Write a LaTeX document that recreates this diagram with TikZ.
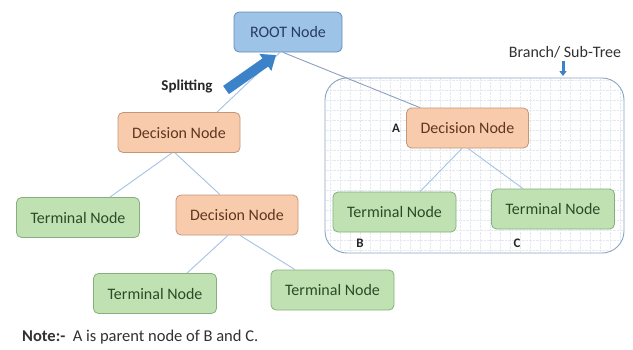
\documentclass[tikz,border=0pt]{standalone}
\usepackage{fontspec}
\setmainfont{Carlito}
\usetikzlibrary{arrows.meta,calc}
\definecolor{rootfill}{RGB}{157,195,230}
\definecolor{rootdraw}{RGB}{100,140,190}
\definecolor{roottext}{RGB}{40,60,100}
\definecolor{decfill}{RGB}{248,203,173}
\definecolor{decdraw}{RGB}{195,150,120}
\definecolor{dectext}{RGB}{95,55,30}
\definecolor{termfill}{RGB}{192,226,178}
\definecolor{termdraw}{RGB}{135,175,125}
\definecolor{termtext}{RGB}{40,75,40}
\definecolor{conn}{RGB}{165,195,228}
\definecolor{conndark}{RGB}{140,160,190}
\definecolor{boxdraw}{RGB}{140,165,195}
\definecolor{gridc}{RGB}{226,233,243}
\definecolor{bigarrow}{RGB}{60,130,200}
\definecolor{labtext}{RGB}{50,50,50}
\tikzset{
  treenode/.style={rectangle, rounded corners=5pt, line width=0.8pt, font=\fontsize{16}{18}\selectfont, inner sep=0pt},
  rootbox/.style={treenode, fill=rootfill, draw=rootdraw, text=roottext, minimum width=108pt, minimum height=40pt},
  decbox/.style={treenode, fill=decfill, draw=decdraw, text=dectext, minimum width=122pt, minimum height=40pt},
  termbox/.style={treenode, fill=termfill, draw=termdraw, text=termtext, minimum width=123pt, minimum height=40pt},
  edge/.style={draw=conn, line width=0.9pt},
  letter/.style={font=\fontsize{13}{15}\selectfont\bfseries, text=black!85, inner sep=0pt}
}
\begin{document}
\begin{tikzpicture}[x=1pt,y=-1pt]
\useasboundingbox (0,0) rectangle (633,349);
\fill[white] (0,0) rectangle (633,349);
% sub-tree box with grid
\begin{scope}
  \clip[rounded corners=22pt] (325,78) rectangle (624,253);
  \draw[gridc, line width=0.4pt, densely dotted, step=10pt] (320,70) grid (630,260);
\end{scope}
\draw[boxdraw, line width=0.9pt, rounded corners=22pt] (325,78) rectangle (624,253);

% nodes
\node[rootbox] (root) at (288,32) {ROOT Node};
\node[decbox] (dl) at (179,132.5) {Decision Node};
\node[termbox] (tl) at (78,217.5) {Terminal Node};
\node[decbox] (dm) at (237,215) {Decision Node};
\node[termbox] (tbl) at (155,293.5) {Terminal Node};
\node[termbox] (tbr) at (332.5,290) {Terminal Node};
\node[decbox] (dA) at (467.5,128) {Decision Node};
\node[termbox] (tB) at (394.5,212) {Terminal Node};
\node[termbox] (tC) at (553,209) {Terminal Node};

% connectors
\draw[edge] ($(root.south)+(-8,0)$) -- ($(dl.north)+(38,0)$);
\draw[draw=conndark, line width=0.9pt] ($(root.south)+(-5,0)$) -- ($(dA.north)+(-47.5,0)$);
\draw[edge] ($(dl.south)+(-7,0)$) -- ($(tl.north)+(32,0)$);
\draw[edge] ($(dl.south)+(-4,0)$) -- ($(dm.north)+(-17,0)$);
\draw[edge] ($(dm.south)+(-9,0)$) -- ($(tbl.north)+(32,0)$);
\draw[edge] ($(dm.south)+(3,0)$) -- ($(tbr.north)+(-37.5,0)$);
\draw[edge] ($(dA.south)+(-5.5,0)$) -- ($(tB.north)+(25.5,0)$);
\draw[edge] ($(dA.south)+(0.5,0)$) -- ($(tC.north)+(-30,0)$);

% splitting arrow
\coordinate (splitstart) at (226,90);
\coordinate (splitend) at (276,55);
\draw[bigarrow, line width=10pt, -{Triangle[length=13pt,width=20pt]}] (splitstart) -- (splitend);
\node[font=\fontsize{15}{17}\selectfont\bfseries, text=black!85, inner sep=0pt] (split) at (187,86) {Splitting};

% labels
\node[letter] (labA) at (396,128) {A};
\node[letter] (labB) at (360,243) {B};
\node[letter] (labC) at (517,243) {C};

% branch label and arrow
\node[font=\fontsize{16}{18}\selectfont, text=labtext, inner sep=0pt] (branch) at (565,52) {Branch/ Sub-Tree};
\coordinate (barrowend) at (563,76);
\draw[bigarrow, line width=3pt, -{Triangle[length=5pt,width=7pt]}] (563,61) -- (barrowend);

% note
\node[anchor=west, font=\fontsize{16.5}{19}\selectfont, text=labtext, inner sep=0pt] (note) at (22,337) {\textbf{Note:-}\ \ A is parent node of B and C.};
\end{tikzpicture}
\end{document}
